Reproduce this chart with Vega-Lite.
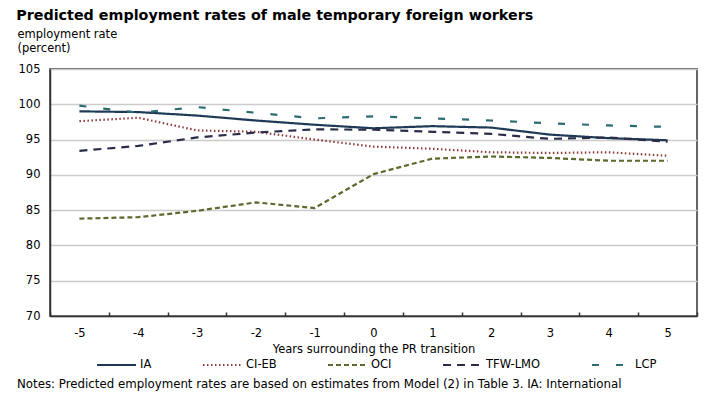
{
  "$schema": "https://vega.github.io/schema/vega-lite/v6.json",
  "padding": {"left": 16, "top": 8, "right": 5, "bottom": 0},
  "background": "white",
  "config": {
    "font": "DejaVu Sans",
    "view": {"stroke": "#333333", "strokeWidth": 1.5},
    "concat": {"spacing": 5}
  },
  "title": {
    "text": "Predicted employment rates of male temporary foreign workers",
    "anchor": "start",
    "fontSize": 14.3,
    "fontWeight": "bold",
    "color": "#000000",
    "offset": 4
  },
  "resolve": {"legend": {"color": "independent", "strokeDash": "independent"}},
  "vconcat": [
    {
      "width": 647,
      "height": 247,
      "data": {
        "values": [
          {"year": -5, "series": "IA", "rate": 99.0},
          {"year": -4, "series": "IA", "rate": 98.9},
          {"year": -3, "series": "IA", "rate": 98.4},
          {"year": -2, "series": "IA", "rate": 97.7},
          {"year": -1, "series": "IA", "rate": 97.1},
          {"year": 0, "series": "IA", "rate": 96.6},
          {"year": 1, "series": "IA", "rate": 96.9},
          {"year": 2, "series": "IA", "rate": 96.7},
          {"year": 3, "series": "IA", "rate": 95.7},
          {"year": 4, "series": "IA", "rate": 95.2},
          {"year": 5, "series": "IA", "rate": 94.9},
          {"year": -5, "series": "CI-EB", "rate": 97.6},
          {"year": -4, "series": "CI-EB", "rate": 98.1},
          {"year": -3, "series": "CI-EB", "rate": 96.3},
          {"year": -2, "series": "CI-EB", "rate": 96.1},
          {"year": -1, "series": "CI-EB", "rate": 95.0},
          {"year": 0, "series": "CI-EB", "rate": 94.0},
          {"year": 1, "series": "CI-EB", "rate": 93.7},
          {"year": 2, "series": "CI-EB", "rate": 93.2},
          {"year": 3, "series": "CI-EB", "rate": 93.1},
          {"year": 4, "series": "CI-EB", "rate": 93.2},
          {"year": 5, "series": "CI-EB", "rate": 92.7},
          {"year": -5, "series": "OCI", "rate": 83.8},
          {"year": -4, "series": "OCI", "rate": 84.0},
          {"year": -3, "series": "OCI", "rate": 84.9},
          {"year": -2, "series": "OCI", "rate": 86.1},
          {"year": -1, "series": "OCI", "rate": 85.3},
          {"year": 0, "series": "OCI", "rate": 90.1},
          {"year": 1, "series": "OCI", "rate": 92.3},
          {"year": 2, "series": "OCI", "rate": 92.6},
          {"year": 3, "series": "OCI", "rate": 92.4},
          {"year": 4, "series": "OCI", "rate": 92.0},
          {"year": 5, "series": "OCI", "rate": 92.0},
          {"year": -5, "series": "TFW-LMO", "rate": 93.4},
          {"year": -4, "series": "TFW-LMO", "rate": 94.1},
          {"year": -3, "series": "TFW-LMO", "rate": 95.3},
          {"year": -2, "series": "TFW-LMO", "rate": 96.0},
          {"year": -1, "series": "TFW-LMO", "rate": 96.45},
          {"year": 0, "series": "TFW-LMO", "rate": 96.4},
          {"year": 1, "series": "TFW-LMO", "rate": 96.1},
          {"year": 2, "series": "TFW-LMO", "rate": 95.8},
          {"year": 3, "series": "TFW-LMO", "rate": 95.1},
          {"year": 4, "series": "TFW-LMO", "rate": 95.3},
          {"year": 5, "series": "TFW-LMO", "rate": 94.7},
          {"year": -5, "series": "LCP", "rate": 99.8},
          {"year": -4, "series": "LCP", "rate": 98.8},
          {"year": -3, "series": "LCP", "rate": 99.6},
          {"year": -2, "series": "LCP", "rate": 98.8},
          {"year": -1, "series": "LCP", "rate": 98.0},
          {"year": 0, "series": "LCP", "rate": 98.3},
          {"year": 1, "series": "LCP", "rate": 98.0},
          {"year": 2, "series": "LCP", "rate": 97.7},
          {"year": 3, "series": "LCP", "rate": 97.3},
          {"year": 4, "series": "LCP", "rate": 97.0},
          {"year": 5, "series": "LCP", "rate": 96.8}
        ]
      },
      "mark": {"type": "line", "strokeWidth": 2.2},
      "encoding": {
        "x": {
          "field": "year",
          "type": "ordinal",
          "sort": "ascending",
          "scale": {"type": "band", "paddingInner": 0, "paddingOuter": 0},
          "axis": {
            "title": "Years surrounding the PR transition",
            "titleFontSize": 11.5,
            "titleFontWeight": "normal",
            "titleColor": "#000000",
            "titlePadding": 5,
            "labelAngle": 0,
            "labelFontSize": 11.5,
            "labelColor": "#000000",
            "labelPadding": 15,
            "tickBand": "extent",
            "tickSize": -4,
            "tickColor": "#333333",
            "tickWidth": 1.5,
            "domainColor": "#333333",
            "domainWidth": 1.5,
            "grid": false
          }
        },
        "y": {
          "field": "rate",
          "type": "quantitative",
          "scale": {"domain": [70, 105], "nice": false, "zero": false},
          "axis": {
            "title": ["employment rate", "(percent)"],
            "titleAngle": 0,
            "titleAlign": "left",
            "titleBaseline": "top",
            "titleX": -33,
            "titleY": -41,
            "titleFontSize": 11.5,
            "titleFontWeight": "normal",
            "titleColor": "#000000",
            "titleLineHeight": 14,
            "values": [70, 75, 80, 85, 90, 95, 100, 105],
            "labelFontSize": 11.5,
            "labelColor": "#000000",
            "labelPadding": 10,
            "ticks": false,
            "domainColor": "#333333",
            "domainWidth": 1.5,
            "gridColor": "#cccccc",
            "gridWidth": 1.5
          }
        },
        "color": {
          "field": "series",
          "type": "nominal",
          "sort": ["IA", "CI-EB", "OCI", "TFW-LMO", "LCP"],
          "scale": {
            "domain": ["IA", "CI-EB", "OCI", "TFW-LMO", "LCP"],
            "range": ["#1e3a56", "#8e3a3a", "#5a6a2c", "#2b2d48", "#2a6b74"]
          },
          "legend": {
            "title": null,
            "orient": "none",
            "legendX": 46,
            "legendY": 289,
            "direction": "horizontal",
            "columns": 5,
            "symbolType": "stroke",
            "symbolSize": 1521,
            "symbolStrokeWidth": 2,
            "clipHeight": 14,
            "labelFontSize": 11.5,
            "labelColor": "#000000",
            "labelOffset": 3,
            "columnPadding": 50
          }
        },
        "strokeDash": {
          "field": "series",
          "type": "nominal",
          "sort": ["IA", "CI-EB", "OCI", "TFW-LMO", "LCP"],
          "scale": {
            "domain": ["IA", "CI-EB", "OCI", "TFW-LMO", "LCP"],
            "range": [[1, 0], [1.5, 2.5], [5, 3], [8, 6], [7, 17]]
          },
          "legend": {
            "title": null,
            "orient": "none",
            "legendX": 46,
            "legendY": 289,
            "direction": "horizontal",
            "columns": 5,
            "symbolType": "stroke",
            "symbolSize": 1521,
            "symbolStrokeWidth": 2,
            "clipHeight": 14,
            "labelFontSize": 11.5,
            "labelColor": "#000000",
            "labelOffset": 3,
            "columnPadding": 50
          }
        }
      }
    },
    {
      "width": 647,
      "height": 1,
      "view": {"stroke": null},
      "title": {
        "text": "Notes: Predicted employment rates are based on estimates from Model (2) in Table 3. IA: International",
        "orient": "top",
        "anchor": "start",
        "fontSize": 11.8,
        "fontWeight": "normal",
        "color": "#000000",
        "offset": 0,
        "dx": -33
      },
      "data": {"values": [{"t": ""}]},
      "mark": {"type": "text"},
      "encoding": {"text": {"field": "t", "type": "nominal"}}
    }
  ]
}
